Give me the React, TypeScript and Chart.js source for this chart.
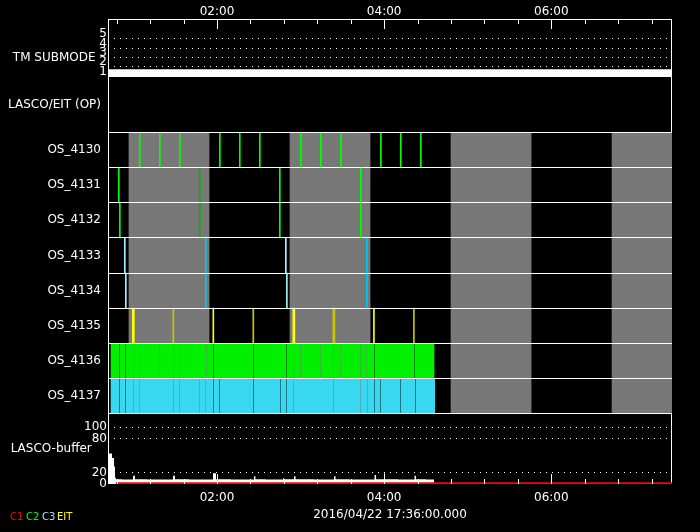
import React, { useEffect, useRef } from 'react';
import { Chart, registerables } from 'chart.js';

Chart.register(...registerables);

// ---------- time axis (minutes after 00:00) ----------
const timeMin = 41.75;
const timeMax = 446.65;
const majorTicks = [120, 240, 360];
const minorTicks = [48, 72, 96, 144, 168, 192, 216, 264, 288, 312, 336, 384, 408, 432];
const dateTitle = '2016/04/22 17:36:00.000';

// ---------- TM submode ----------
const tmTime = [41.75, 446.65];
const tmValue = [1, 1];
const tmTicks = [1, 2, 3, 4, 5];
const tmTitle = 'TM SUBMODE';

// ---------- LASCO/EIT OP ----------
const opLabel = 'LASCO/EIT (OP)';

// ---------- OS rows (start minute of each image; duration in minutes) ----------
const osRows = ['OS_4130', 'OS_4131', 'OS_4132', 'OS_4133', 'OS_4134', 'OS_4135', 'OS_4136', 'OS_4137'];
const grayBands = [[56.8, 114.3], [172.4, 229.9], [288.0, 345.5], [403.6, 446.65]];
const os4130 = [64.2, 78.6, 93.0, 121.7, 136.0, 150.4, 179.8, 194.2, 208.6, 237.3, 251.6, 266.0];
const os4131 = [49.15, 107.3, 164.75, 222.9];
const os4132 = [49.9, 107.3, 164.75, 222.9];
const os4133 = [53.45, 111.6, 169.05, 227.2];
const os4134 = [54.2, 111.6, 169.8, 227.2];
const os4135 = [59.2, 88.3, 117.0, 145.7, 174.45, 203.2, 232.3, 261.0];
const os4135Dur = [1.44, 0.72, 0.72, 0.72, 1.44, 1.44, 0.72, 0.72];
const os4136Span = [43.9, 275.8];
const os4136Gaps = [49.65, 53.95, 59.7, 64.0, 78.4, 88.4, 92.7, 112.1, 117.1, 145.85, 169.5, 174.6, 179.6, 194.0, 203.3, 208.1, 222.7, 227.0, 232.7, 261.4];
const os4137Span = [43.9, 276.3];
const os4137Gaps = [49.65, 53.95, 59.7, 64.0, 88.4, 92.7, 107.1, 111.4, 117.1, 121.4, 145.85, 165.2, 169.5, 174.6, 203.3, 222.7, 227.7, 232.7, 237.0, 251.4, 262.1];

// ---------- LASCO buffer ----------
const bufTime = [41.75, 44.6, 46.1, 46.8, 47.5, 52, 59.7, 61.1, 70, 88.4, 89.85, 100, 117.1, 119.3, 130, 146.6, 147.6, 155, 167.4, 168.1, 175.3, 176.4, 190, 204.0, 205.1, 215, 233.1, 234.2, 239.9, 240.6, 250, 261.8, 262.9, 270, 275.8];
const bufValue = [54, 46, 31, 11, 8.5, 8, 14.5, 8.5, 8, 14.5, 8.5, 8, 19, 8.5, 8, 13.5, 8.5, 8, 10, 8.5, 13.5, 8.5, 8, 13.5, 8.5, 8, 16, 8.5, 19, 8.5, 8, 14.5, 8.5, 8, 0];
const bufTicks = [0, 20, 80, 100];
const bufTitle = 'LASCO-buffer';
const c1Time = [47.5, 446.65];
const c1Value = [0, 0];

// ---------- legend ----------
const legendNames = ['C1', 'C2', 'C3', 'EIT'];
const legendColors = ['#ff0000', '#00ff00', '#a0e0f0', '#ffff00'];

// ---------- style ----------
const WHITE = '#ffffff';
const GRAY = 'rgb(120,120,120)';
const GREEN = '#00ff00';
const GREEN_DK = '#00b400';
const CYAN = '#00c8f0';
const CYAN_LT = '#a0f0ff';
const YELLOW = '#ffff00';
const YELLOW_DK = '#c8c800';
const FONT = { family: 'DejaVu Sans', size: 12 };
const LINE_W = 0.72; // one pixel in minutes
const panelH = { tm: 58, op: 55.5, os: 281, buf: 70.5 };
const tmTitlePos = 2.47;
const bufTitlePos = 62.3;
const shade4131 = [GREEN, GREEN_DK, GREEN, GREEN];
const shade4132 = [GREEN, GREEN_DK, GREEN, GREEN];
const shade4133 = [CYAN_LT, CYAN, CYAN_LT, CYAN];
const shade4134 = [CYAN_LT, CYAN, CYAN_LT, CYAN];
const shade4135 = [YELLOW, YELLOW_DK, YELLOW, YELLOW_DK, YELLOW, YELLOW_DK, YELLOW, YELLOW_DK];

const fmt = (m: number) => {
  const h = Math.floor(m / 60);
  const mm = Math.round(m - h * 60);
  return String(h).padStart(2, '0') + ':' + String(mm).padStart(2, '0');
};

const linesToBars = (times: number[], row: string, dur?: number[]) =>
  times.map((t, i) => ({ x: [t, t + (dur ? dur[i] : LINE_W)], y: row }));
const spanToBars = (span: number[], gaps: number[], row: string) => {
  const out: any[] = [];
  let s = span[0];
  for (const g of gaps) {
    out.push({ x: [s, g], y: row });
    s = g + LINE_W;
  }
  out.push({ x: [s, span[1]], y: row });
  return out;
};

const barBase = {
  type: 'bar' as const,
  indexAxis: 'y' as const,
  xAxisID: 'x',
  yAxisID: 'yOS',
  grouped: false,
  barPercentage: 1,
  categoryPercentage: 1,
  borderWidth: 0,
  clip: 0,
};

const framePlugin = {
  id: 'frameTicks',
  beforeDatasetsDraw(chart: any) {
    const { ctx, chartArea: a } = chart;
    ctx.save();
    ctx.strokeStyle = WHITE;
    ctx.lineWidth = 1;
    ctx.strokeRect(a.left + 0.5, a.top + 0.5, a.right - a.left - 1, a.bottom - a.top - 1);
    ctx.restore();
  },
  afterDatasetsDraw(chart: any) {
    const { ctx, chartArea: a } = chart;
    const xs = chart.scales.x;
    ctx.save();
    ctx.strokeStyle = WHITE;
    ctx.lineWidth = 1;
    const draw = (v: number, len: number) => {
      const px = Math.round(xs.getPixelForValue(v)) + 0.5;
      ctx.beginPath();
      ctx.moveTo(px, a.top);
      ctx.lineTo(px, a.top + len);
      ctx.moveTo(px, a.bottom);
      ctx.lineTo(px, a.bottom - len);
      ctx.stroke();
    };
    majorTicks.forEach((v) => draw(v, 10));
    minorTicks.forEach((v) => draw(v, 5));
    ctx.restore();
  },
};

export default function App() {
  const ref = useRef<HTMLCanvasElement>(null);
  useEffect(() => {
    document.body.style.margin = '0';
    document.body.style.background = '#000';
    const datasets: any[] = [
      {
        type: 'line', xAxisID: 'x', yAxisID: 'yTm',
        data: tmTime.map((t, i) => ({ x: t, y: tmValue[i] })),
        borderColor: WHITE, borderWidth: 14, pointRadius: 0, order: 1, clip: 0,
      },
      { ...barBase, data: osRows.flatMap((r) => grayBands.map((b) => ({ x: [b[0], b[1]], y: r }))), backgroundColor: GRAY, order: 10 },
      { ...barBase, data: spanToBars(os4136Span, os4136Gaps, 'OS_4136'), backgroundColor: '#00f000', order: 6 },
      { ...barBase, data: spanToBars(os4137Span, os4137Gaps, 'OS_4137'), backgroundColor: '#38d8f0', order: 6 },
      { ...barBase, data: linesToBars(os4130, 'OS_4130'), backgroundColor: GREEN, order: 5 },
      { ...barBase, data: linesToBars(os4131, 'OS_4131'), backgroundColor: shade4131, order: 5 },
      { ...barBase, data: linesToBars(os4132, 'OS_4132'), backgroundColor: shade4132, order: 5 },
      { ...barBase, data: linesToBars(os4133, 'OS_4133'), backgroundColor: shade4133, order: 5 },
      { ...barBase, data: linesToBars(os4134, 'OS_4134'), backgroundColor: shade4134, order: 5 },
      { ...barBase, data: linesToBars(os4135, 'OS_4135', os4135Dur), backgroundColor: shade4135, order: 5 },
      {
        type: 'line', xAxisID: 'x', yAxisID: 'yBuf',
        data: bufTime.map((t, i) => ({ x: t, y: bufValue[i] })),
        stepped: true, fill: 'origin', backgroundColor: WHITE, borderColor: WHITE, borderWidth: 0,
        pointRadius: 0, order: 3, clip: 0,
      },
      {
        type: 'line', xAxisID: 'x', yAxisID: 'yBuf',
        data: c1Time.map((t, i) => ({ x: t, y: c1Value[i] })),
        borderColor: '#ff0000', borderWidth: 3.5, pointRadius: 0, order: 2, clip: 0,
      },
    ];

    const tickCommon = { color: WHITE, font: FONT, autoSkip: false };
    const chart = new Chart(ref.current!, {
      type: 'bar',
      data: { datasets },
      plugins: [framePlugin],
      options: {
        animation: false,
        responsive: false,
        layout: { padding: { left: 0, right: 28, top: 0, bottom: 0 } },
        plugins: { legend: { display: false }, tooltip: { enabled: false } },
        scales: {
          x: {
            type: 'linear', position: 'bottom', min: timeMin, max: timeMax, offset: false,
            beginAtZero: false, grace: 0,
            afterBuildTicks: (s: any) => { s.ticks = majorTicks.map((v) => ({ value: v })); },
            ticks: { ...tickCommon, maxRotation: 0, padding: 7, callback: (v: any) => fmt(Number(v)) },
            grid: { drawOnChartArea: false, drawTicks: false, offset: false },
            border: { display: false },
            title: { display: true, text: dateTitle, color: WHITE, font: FONT, padding: { top: 0, bottom: 10 } },
            afterFit: (s: any) => { s.height = 48; },
          },
          xTop: {
            type: 'linear', position: 'top', min: timeMin, max: timeMax, offset: false,
            afterBuildTicks: (s: any) => { s.ticks = majorTicks.map((v) => ({ value: v })); },
            ticks: { ...tickCommon, maxRotation: 0, padding: 0, callback: (v: any) => fmt(Number(v)) },
            grid: { drawOnChartArea: false, drawTicks: false, offset: false },
            border: { display: false },
            afterFit: (s: any) => { s.height = 19; },
          },
          yTm: {
            type: 'linear', position: 'left', stack: 'main', stackWeight: panelH.tm, weight: 4,
            min: 0.914, max: 7.12,
            afterBuildTicks: (s: any) => { s.ticks = [...tmTicks, tmTitlePos].map((v) => ({ value: v })); },
            ticks: {
              ...tickCommon, padding: 1, labelOffset: -4.5,
              callback: (v: any) => (Math.abs(v - tmTitlePos) < 1e-6 ? tmTitle + '   ' : String(v)),
            },
            grid: {
              drawTicks: false,
              color: (c: any) => (c.tick && [2, 3, 4, 5].includes(c.tick.value) ? WHITE : 'rgba(0,0,0,0)'),
            },
            border: { display: false, dash: [1, 5] },
            afterFit: (s: any) => { s.width = 108; },
          },
          yOp: {
            type: 'category', labels: [opLabel], position: 'left', stack: 'main', stackWeight: panelH.op, weight: 3,
            offset: true,
            ticks: { ...tickCommon, padding: 7 },
            grid: { display: false, drawTicks: false },
            border: { display: false },
            afterFit: (s: any) => { s.width = 108; },
          },
          yOS: {
            type: 'category', labels: osRows, position: 'left', stack: 'main', stackWeight: panelH.os, weight: 2,
            offset: true,
            ticks: { ...tickCommon, padding: 7 },
            grid: { offset: true, color: WHITE, drawTicks: false, z: 1 },
            border: { display: false },
            afterFit: (s: any) => { s.width = 108; },
          },
          yBuf: {
            type: 'linear', position: 'left', stack: 'main', stackWeight: panelH.buf, weight: 1,
            min: 0, max: 124.5,
            afterBuildTicks: (s: any) => { s.ticks = [...bufTicks, bufTitlePos].map((v) => ({ value: v })); },
            ticks: {
              ...tickCommon, padding: 1,
              callback: (v: any) => (Math.abs(v - bufTitlePos) < 1e-6 ? bufTitle + '    ' : String(v)),
            },
            grid: {
              drawTicks: false,
              color: (c: any) => (c.tick && [20, 80, 100].includes(c.tick.value) ? WHITE : 'rgba(0,0,0,0)'),
            },
            border: { display: false, dash: [1, 5] },
            afterFit: (s: any) => { s.width = 108; },
          },
        },
      } as any,
    });
    return () => chart.destroy();
  }, []);

  return (
    <div style={{ position: 'relative', width: 700, height: 532, background: '#000' }}>
      <canvas ref={ref} width={700} height={532} style={{ display: 'block', background: '#000' }} />
      {legendNames.map((n, i) => (
        <span
          key={n}
          style={{
            position: 'absolute', left: [10, 26, 42, 57][i], top: 511, color: legendColors[i],
            font: '10px "DejaVu Sans"', lineHeight: '12px',
          }}
        >
          {n}
        </span>
      ))}
    </div>
  );
}
